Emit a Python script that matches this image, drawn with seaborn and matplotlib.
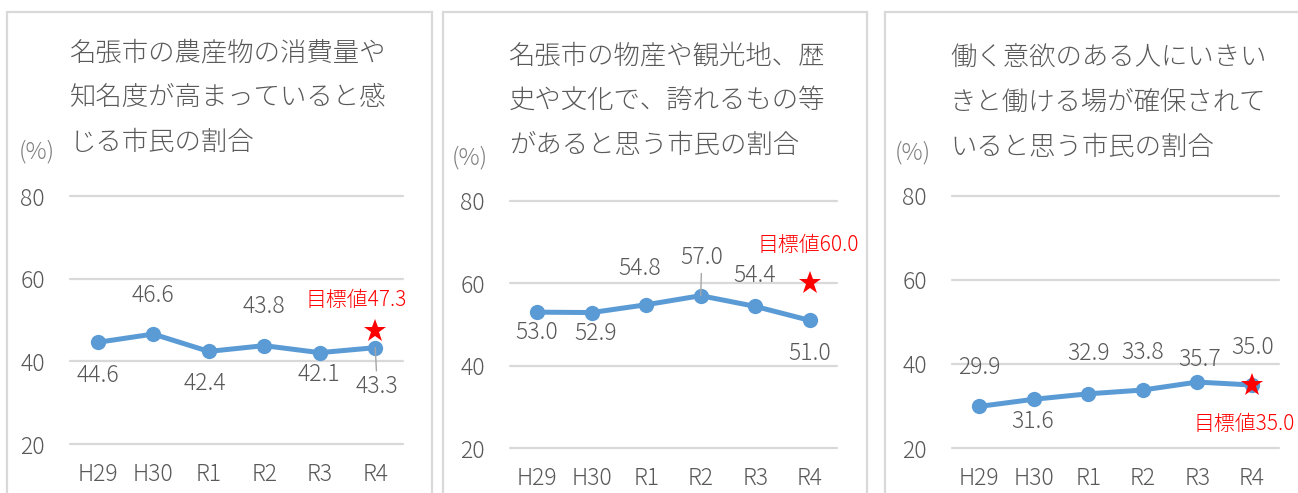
import numpy as np
import pandas as pd
import matplotlib
matplotlib.use("Agg")
import matplotlib.pyplot as plt
from matplotlib.patches import Rectangle
import seaborn as sns

# ---------------- data ----------------
categories = ["H29", "H30", "R1", "R2", "R3", "R4"]
titles = [
    ["名張市の農産物の消費量や", "知名度が高まっていると感", "じる市民の割合"],
    ["名張市の物産や観光地、歴", "史や文化で、誇れるもの等", "があると思う市民の割合"],
    ["働く意欲のある人にいきい", "きと働ける場が確保されて", "いると思う市民の割合"],
]
values_1 = [44.6, 46.6, 42.4, 43.8, 42.1, 43.3]
values_2 = [53.0, 52.9, 54.8, 57.0, 54.4, 51.0]
values_3 = [29.9, 31.6, 32.9, 33.8, 35.7, 35.0]
targets = [47.3, 60.0, 35.0]
target_labels = ["目標値47.3", "目標値60.0", "目標値35.0"]
yticks = [20, 40, 60, 80]
unit_label = "(%)"

# ---------------- layout (pixels) ----------------
W, H = 1298, 493
sns.set_theme(style="white")
plt.rcParams["font.family"] = ["Noto Sans CJK JP", "DejaVu Sans"]
plt.rcParams["font.weight"] = "light"

GRAY = "#595959"
GRID = "#d9d9d9"
BLUE = "#5B9BD5"
RED = "#FF0000"

panels = [
    dict(values=values_1, box=(7, 12, 432), plot=(70, 403, 196, 444),
         title_xy=(70, [52, 97, 142]), unit_xy=(37, 152),
         lab_off=[(0, 33), (0, -39), (-4, 32), (0, -39), (-1, 22), (2, 39)],
         leader=5, tgt_xy=(356, 300)),
    dict(values=values_2, box=(443, 12, 867), plot=(510, 837, 201, 448),
         title_xy=(509, [55, 100, 145]), unit_xy=(470, 158),
         lab_off=[(0, 20), (4, 21), (-7, -36), (1, -38), (-1, -31), (0, 33)],
         leader=3, tgt_xy=(808, 245)),
    dict(values=values_3, box=(885, 12, 1310), plot=(952, 1279, 196, 448),
         title_xy=(950, [57, 102, 147]), unit_xy=(913, 153),
         lab_off=[(0, -39), (-1, 22), (0, -40), (0, -38), (2, -23), (1, -38)],
         leader=None, tgt_xy=(1244, 424)),
]

fig = plt.figure(figsize=(W / 100, H / 100), dpi=100)
fig.patch.set_facecolor("white")

PX2PT = 0.72

for k, p in enumerate(panels):
    bx0, by0, bx1 = p["box"]
    fig.add_artist(Rectangle((bx0 / W, -0.1), (bx1 - bx0) / W, 1.1 - by0 / H,
                             transform=fig.transFigure, fill=False,
                             edgecolor=GRID, linewidth=1.6, clip_on=False))
    l, r, t, b = p["plot"]
    ax = fig.add_axes([l / W, 1 - b / H, (r - l) / W, (b - t) / H])
    ax.set_facecolor("none")

    df = pd.DataFrame({"year": categories, "value": p["values"]})
    for yv in yticks:
        ax.axhline(yv, color=GRID, linewidth=1.6, zorder=0, clip_on=False)
    sns.lineplot(data=df, x="year", y="value", ax=ax, sort=False,
                 color=BLUE, linewidth=3.6, marker="o", markersize=11,
                 markeredgewidth=0, zorder=3, clip_on=False)
    ax.set_xlim(-0.5, len(categories) - 0.5)
    ax.set_ylim(yticks[0], yticks[-1])
    ax.set_yticks(yticks)
    ax.set_yticklabels([str(v) for v in yticks])
    ax.set_xticks(range(len(categories)))
    ax.set_xticklabels(categories)
    ax.set_xlabel("")
    ax.set_ylabel("")
    for s in ax.spines.values():
        s.set_visible(False)
    ax.tick_params(axis="y", length=0, pad=18, labelsize=16.5, labelcolor=GRAY)
    ax.tick_params(axis="x", length=0, pad=13, labelsize=16.5, labelcolor=GRAY)

    # data labels
    for i, (v, off) in enumerate(zip(p["values"], p["lab_off"])):
        kw = {}
        if p["leader"] == i:
            kw["arrowprops"] = dict(arrowstyle="-", color="#a6a6a6", lw=1.0,
                                    shrinkA=0, shrinkB=0)
        ax.annotate(f"{v:.1f}", xy=(i, v),
                    xytext=(off[0] * PX2PT, -off[1] * PX2PT),
                    textcoords="offset points", ha="center", va="center",
                    fontsize=16.5, color=GRAY, zorder=5, **kw)

    # target star
    ax.plot([len(categories) - 1], [targets[k]], marker="*", color=RED,
            markersize=17, markeredgewidth=0, linestyle="none", zorder=6,
            clip_on=False)
    tx, ty = p["tgt_xy"]
    fig.text(tx / W, 1 - ty / H, target_labels[k], ha="center", va="center",
             fontsize=15, color=RED)

    # title
    tx0, tys = p["title_xy"]
    for line, yy in zip(titles[k], tys):
        fig.text(tx0 / W, 1 - yy / H, line, ha="left", va="center",
                 fontsize=19, color=GRAY)
    ux, uy = p["unit_xy"]
    fig.text(ux / W, 1 - uy / H, unit_label, ha="center", va="center",
             fontsize=17, color="#7f7f7f")

fig.savefig("out.png", dpi=100, facecolor="white")
